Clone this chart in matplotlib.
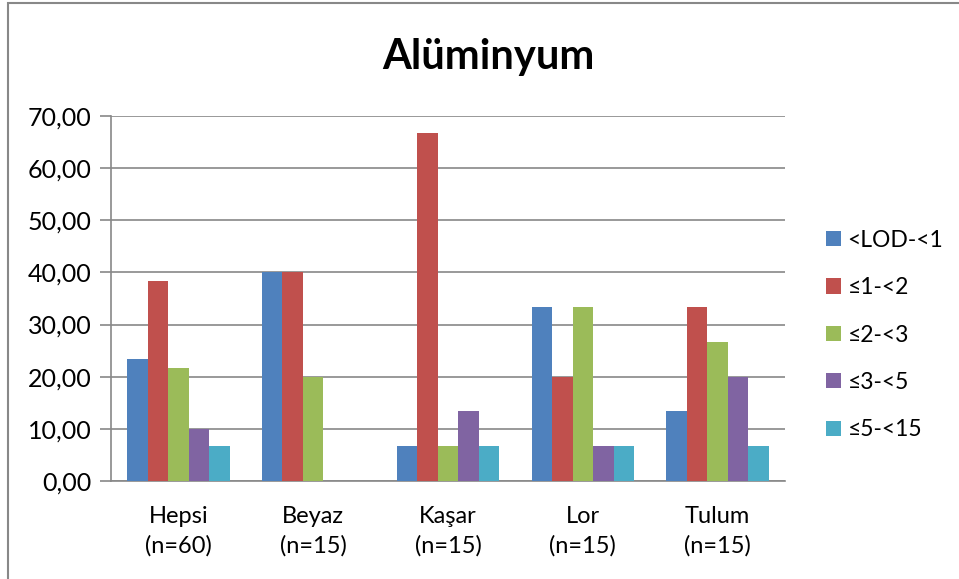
import numpy as np
import matplotlib.pyplot as plt
from matplotlib.patches import Rectangle

categories = ["Hepsi\n(n=60)", "Beyaz\n(n=15)", "Kaşar\n(n=15)", "Lor\n(n=15)", "Tulum\n(n=15)"]
series_names = ["<LOD-<1", "≤1-<2", "≤2-<3", "≤3-<5", "≤5-<15"]
lod_1 = [23.33, 40.00, 6.67, 33.33, 13.33]
le1_2 = [38.33, 40.00, 66.67, 20.00, 33.33]
le2_3 = [21.67, 20.00, 6.67, 33.33, 26.67]
le3_5 = [10.00, 0.00, 13.33, 6.67, 20.00]
le5_15 = [6.67, 0.00, 6.67, 6.67, 6.67]
yticks = [0, 10, 20, 30, 40, 50, 60, 70]

colors = ["#4F81BD", "#C0504D", "#9BBB59", "#8064A2", "#4BACC6"]
series = [lod_1, le1_2, le2_3, le3_5, le5_15]

plt.rcParams['font.family'] = ['Lato', 'DejaVu Sans']

fig = plt.figure(figsize=(9.59, 5.79), dpi=100)
ax = fig.add_axes([111/959, 1 - 481/579, (785-111)/959, (481-116)/579])

x = np.arange(len(categories))
w = 0.152
for i, (vals, name, c) in enumerate(zip(series, series_names, colors)):
    ax.bar(x + (i - 2) * w, vals, w, color=c, label=name, zorder=3)

ax.set_xlim(-0.5, len(categories) - 0.5)
ax.set_ylim(0, 70)
ax.set_yticks(yticks)
ax.set_yticklabels([f"{v:.2f}".replace(".", ",") for v in yticks], fontsize=18)
ax.set_xticks(x)
ax.set_xticklabels(categories, fontsize=17, linespacing=1.45)
ax.tick_params(axis='x', length=0, pad=18)
ax.tick_params(axis='y', length=8, color='#888888', width=1.2, pad=6)
ax.grid(axis='y', color='#888888', linewidth=1.2, zorder=0)
for s in ['top', 'right']:
    ax.spines[s].set_visible(False)
for s in ['left', 'bottom']:
    ax.spines[s].set_color('#888888')
    ax.spines[s].set_linewidth(1.2)

fig.text(488/959, 1 - 57/579, "Alüminyum", ha='center', va='center',
         fontsize=30, fontweight='bold')

ax.legend(loc='center left', bbox_to_anchor=(1.03, 0.40), frameon=False,
          fontsize=16.5, handlelength=0.65, handleheight=0.65, labelspacing=1.15,
          handletextpad=0.3)

fig.patches.append(Rectangle((8/959, -0.1), 1.2, (1 - 3/579) + 0.1,
                             transform=fig.transFigure, fill=False,
                             edgecolor='#888888', linewidth=1.5))

plt.savefig("out.png", dpi=100)
